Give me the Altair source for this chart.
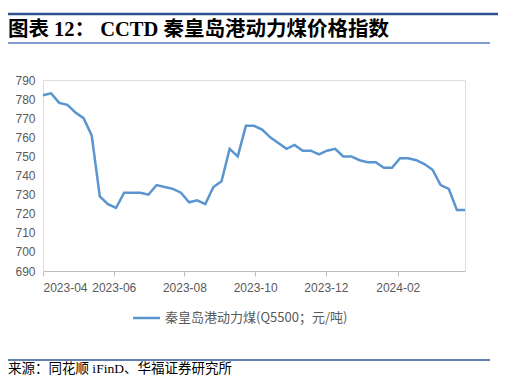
import altair as alt
import pandas as pd

start = "2023-04-01"
values = [782, 783, 778, 777, 773, 770, 761, 729, 725, 723, 731, 731, 731, 730,
          735, 734, 733, 731, 726, 727, 725, 734, 737, 754, 750, 766, 766, 764,
          760, 757, 754, 756, 753, 753, 751, 753, 754, 750, 750, 748, 747, 747,
          744, 744, 749, 749, 748, 746, 743, 735, 733, 722, 722]
dates = [d.strftime("%Y-%m-%dT00:00:00") for d in pd.date_range(start, periods=len(values), freq="7D")]
tick_months = [(2023, 4), (2023, 6), (2023, 8), (2023, 10), (2023, 12), (2024, 2)]
y_ticks = list(range(690, 791, 10))

title_text = "图表 12： CCTD 秦皇岛港动力煤价格指数"
legend_text = "秦皇岛港动力煤(Q5500；元/吨)"
source_text = "来源：同花顺 iFinD、华福证券研究所"

df = pd.DataFrame({"date": dates, "value": values})
one = pd.DataFrame({"a": [0]})

LINE = "#5B95CF"
GRAY = "#595959"

line = alt.Chart(df).mark_line(color=LINE, strokeWidth=2.5).encode(
    x=alt.X("date:T",
            scale=alt.Scale(domain=[alt.DateTime(year=2023, month=4, date=1),
                                    alt.DateTime(year=2024, month=3, date=30)]),
            axis=alt.Axis(values=[alt.DateTime(year=y, month=m, date=1) for y, m in tick_months],
                          format="%Y-%m", title=None, grid=False,
                          domainColor="#BFBFBF", tickColor="#BFBFBF", tickSize=5,
                          labelColor=GRAY, labelFontSize=12, labelFont="Liberation Sans",
                          labelPadding=6)),
    y=alt.Y("value:Q", scale=alt.Scale(domain=[690, 790], nice=False, zero=False),
            axis=alt.Axis(values=y_ticks, title=None, grid=False, domain=False, ticks=False,
                          labelColor=GRAY, labelFontSize=12, labelFont="Liberation Sans",
                          labelPadding=8)),
)

base = alt.Chart(one)
top_rule = base.mark_rule(color="#2F4F8F", strokeWidth=2.5).encode(
    x=alt.value(-35), x2=alt.value(457), y=alt.value(-66))
title_rule = base.mark_rule(color="#5B7FBF", strokeWidth=1.5).encode(
    x=alt.value(-35), x2=alt.value(447), y=alt.value(-37))
bottom_rule = base.mark_rule(color="#2F5597", strokeWidth=1.5).encode(
    x=alt.value(-35), x2=alt.value(447), y=alt.value(280))
title = base.mark_text(text=title_text, fontSize=20.5, fontWeight="bold",
                       font="Liberation Serif, Noto Sans CJK SC", align="left",
                       baseline="alphabetic", color="#000000").encode(
    x=alt.value(-35), y=alt.value(-44))
legend_line = base.mark_rule(color=LINE, strokeWidth=2.5).encode(
    x=alt.value(90), x2=alt.value(117), y=alt.value(238))
legend_label = base.mark_text(text=legend_text, fontSize=13, font="Noto Sans CJK SC",
                              align="left", baseline="middle", color=GRAY).encode(
    x=alt.value(122), y=alt.value(238))
source = base.mark_text(text=source_text, fontSize=13.5, font="Liberation Serif, Noto Sans CJK SC",
                        align="left", baseline="middle", color="#000000").encode(
    x=alt.value(-35), y=alt.value(289))

chart = alt.layer(line, top_rule, title_rule, bottom_rule, title, legend_line,
                  legend_label, source).properties(
    width=422, height=191,
    autosize=alt.AutoSizeParams(type="none"),
    padding={"left": 35, "top": 72, "right": 33, "bottom": 106},
).configure_view(stroke=None).configure(background="white")

chart.save("out.html", embed_options={"renderer": "svg", "actions": False})
